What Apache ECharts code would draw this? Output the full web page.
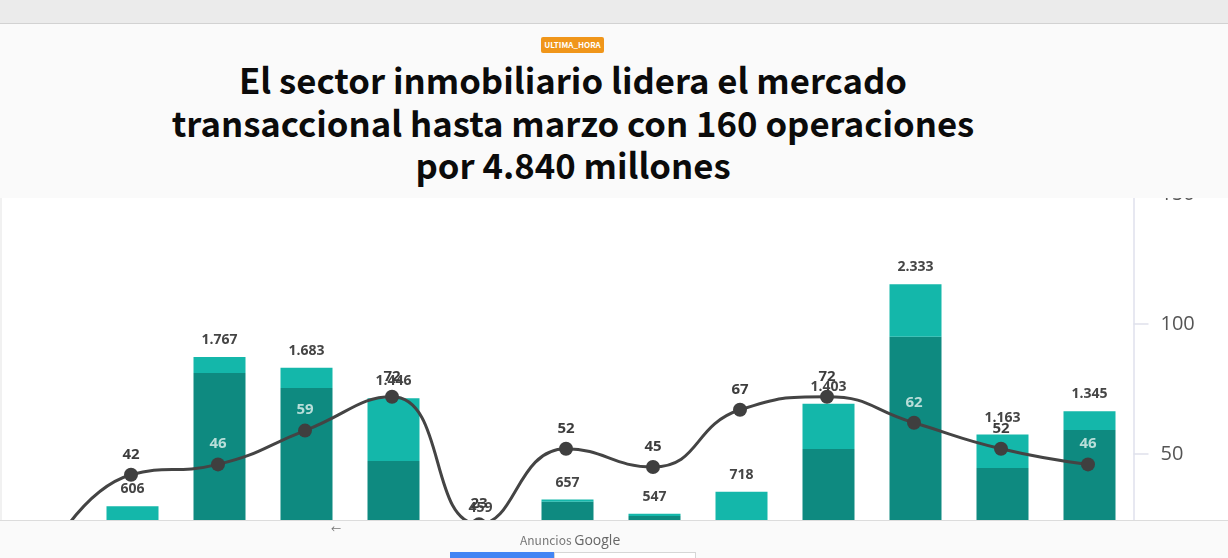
<!doctype html>
<html>
<head>
<meta charset="utf-8">
<style>
  html,body{margin:0;padding:0;width:1228px;height:558px;overflow:hidden;background:#fff;font-family:"Noto Sans CJK SC",sans-serif;}
  #main{position:absolute;left:0;top:0;width:1228px;height:640px;}
  .topbar{position:absolute;left:0;top:0;width:1228px;height:23px;background:#ebebeb;border-bottom:1px solid #d2d2d2;}
  .head{position:absolute;left:0;top:24px;width:1228px;height:174px;background:#fafafa;text-align:center;}
  .badge{position:absolute;left:541px;top:13px;width:63px;height:16px;line-height:16px;background:#f0961a;border-radius:2px;color:#fff;font-size:8px;font-weight:700;}
  .head h1{position:absolute;left:0;top:34px;width:1146px;margin:0;font-size:34.7px;line-height:42.5px;font-weight:700;color:#0b0b0b;}
  .foot{position:absolute;left:0;top:520px;width:1228px;height:38px;background:#fafafa;border-top:1px solid #dcdcdc;}
  .arrow{position:absolute;left:331px;top:0;font-size:10px;line-height:16px;color:#777;}
  .ads{position:absolute;left:520px;top:9px;font-size:12px;line-height:20px;color:#777;white-space:nowrap;}
  .ads b{font-family:"Open Sans",sans-serif;font-weight:400;font-size:14px;color:#666;}
  .btn1{position:absolute;left:450px;top:31px;width:104px;height:7px;background:#4285f4;}
  .btn2{position:absolute;left:554px;top:31px;width:140px;height:7px;background:#fff;border:1px solid #d6d6d6;border-bottom:0;}
  .edge{position:absolute;left:0;top:198px;width:2px;height:322px;background:#f1f1f1;}
</style>
</head>
<body>
<div id="main"></div>
<div class="edge"></div>
<div class="topbar"></div>
<div class="head">
  <div class="badge">ULTIMA_HORA</div>
  <h1>El sector inmobiliario lidera el mercado<br>transaccional hasta marzo con 160 operaciones<br>por 4.840 millones</h1>
</div>
<div class="foot">
  <div class="arrow">←</div>
  <div class="ads">Anuncios <b>Google</b></div>
  <div class="btn1"></div>
  <div class="btn2"></div>
</div>
<script src="https://cdn.jsdelivr.net/npm/echarts@6/dist/echarts.min.js"></script>
<script>
var categories = ['1','2','3','4','5','6','7','8','9','10','11','12','13'];
// importe total sobre cada barra, el primero queda oculto
var totalLabels = ['','606','1.767','1.683','1.446','459','657','547','718','1.403','2.333','1.163','1.345'];
var darkValues = [null,300,1642,1525,957,300,640,530,400,1050,1925,903,1198];
var lightValues = [null,306,125,158,489,159,17,17,318,353,408,260,147];
var operations = [8,42,46,59,72,23,52,45,67,72,62,52,46];
var rightTicks = [0,50,100,150];

// etiquetas de la linea que caen sobre la parte oscura de la barra
var paleLabels = ['3','4','11','13'];

var lineData = [];
for (var i = 0; i < operations.length; i++) {
  lineData.push({
    value: operations[i],
    label: {color: paleLabels.indexOf(categories[i]) >= 0 ? '#b9ded9' : '#3d3d3d'}
  });
}

var myChart = echarts.init(document.getElementById('main'));
var option = {
  animation: false,
  grid: [
    {left: 2, width: 1131, top: 194, height: 390},
    {left: 0.5, width: 1131, top: 194, height: 390}
  ],
  xAxis: [
    {type: 'category', gridIndex: 0, data: categories, show: false},
    {type: 'category', gridIndex: 1, data: categories, show: false}
  ],
  yAxis: [
    {type: 'value', gridIndex: 0, min: 0, max: 3035, show: false},
    {
      type: 'value', gridIndex: 1, position: 'right', offset: 2,
      min: rightTicks[0], max: rightTicks[3], interval: 50,
      splitLine: {show: false},
      axisLine: {show: true, lineStyle: {color: '#dfe1ec', width: 1.5}},
      axisTick: {show: true, length: 15, lineStyle: {color: '#dfe1ec', width: 1.5}},
      axisLabel: {margin: 27, fontSize: 20, color: '#555', fontFamily: 'Open Sans'}
    }
  ],
  series: [
    {
      name: 'dark', type: 'bar', stack: 'total', xAxisIndex: 0, yAxisIndex: 0,
      data: darkValues, barWidth: 52, itemStyle: {color: '#0e8a80'}
    },
    {
      name: 'light', type: 'bar', stack: 'total', xAxisIndex: 0, yAxisIndex: 0,
      data: lightValues, barWidth: 52, itemStyle: {color: '#14b7aa'},
      label: {
        show: true, position: 'top', distance: 10,
        fontSize: 14, fontWeight: 'bold', color: '#454545', fontFamily: 'Open Sans',
        formatter: function (p) { return totalLabels[p.dataIndex]; }
      }
    },
    {
      name: 'operaciones', type: 'line', xAxisIndex: 1, yAxisIndex: 1, z: 5,
      data: lineData, smooth: 0.5,
      symbol: 'circle', symbolSize: 14,
      lineStyle: {color: '#444', width: 3},
      itemStyle: {color: '#3f3f3f'},
      label: {show: true, position: 'top', distance: 6, fontSize: 15, fontFamily: 'Open Sans', fontWeight: 'bold'}
    }
  ]
};
myChart.setOption(option);
</script>
</body>
</html>
